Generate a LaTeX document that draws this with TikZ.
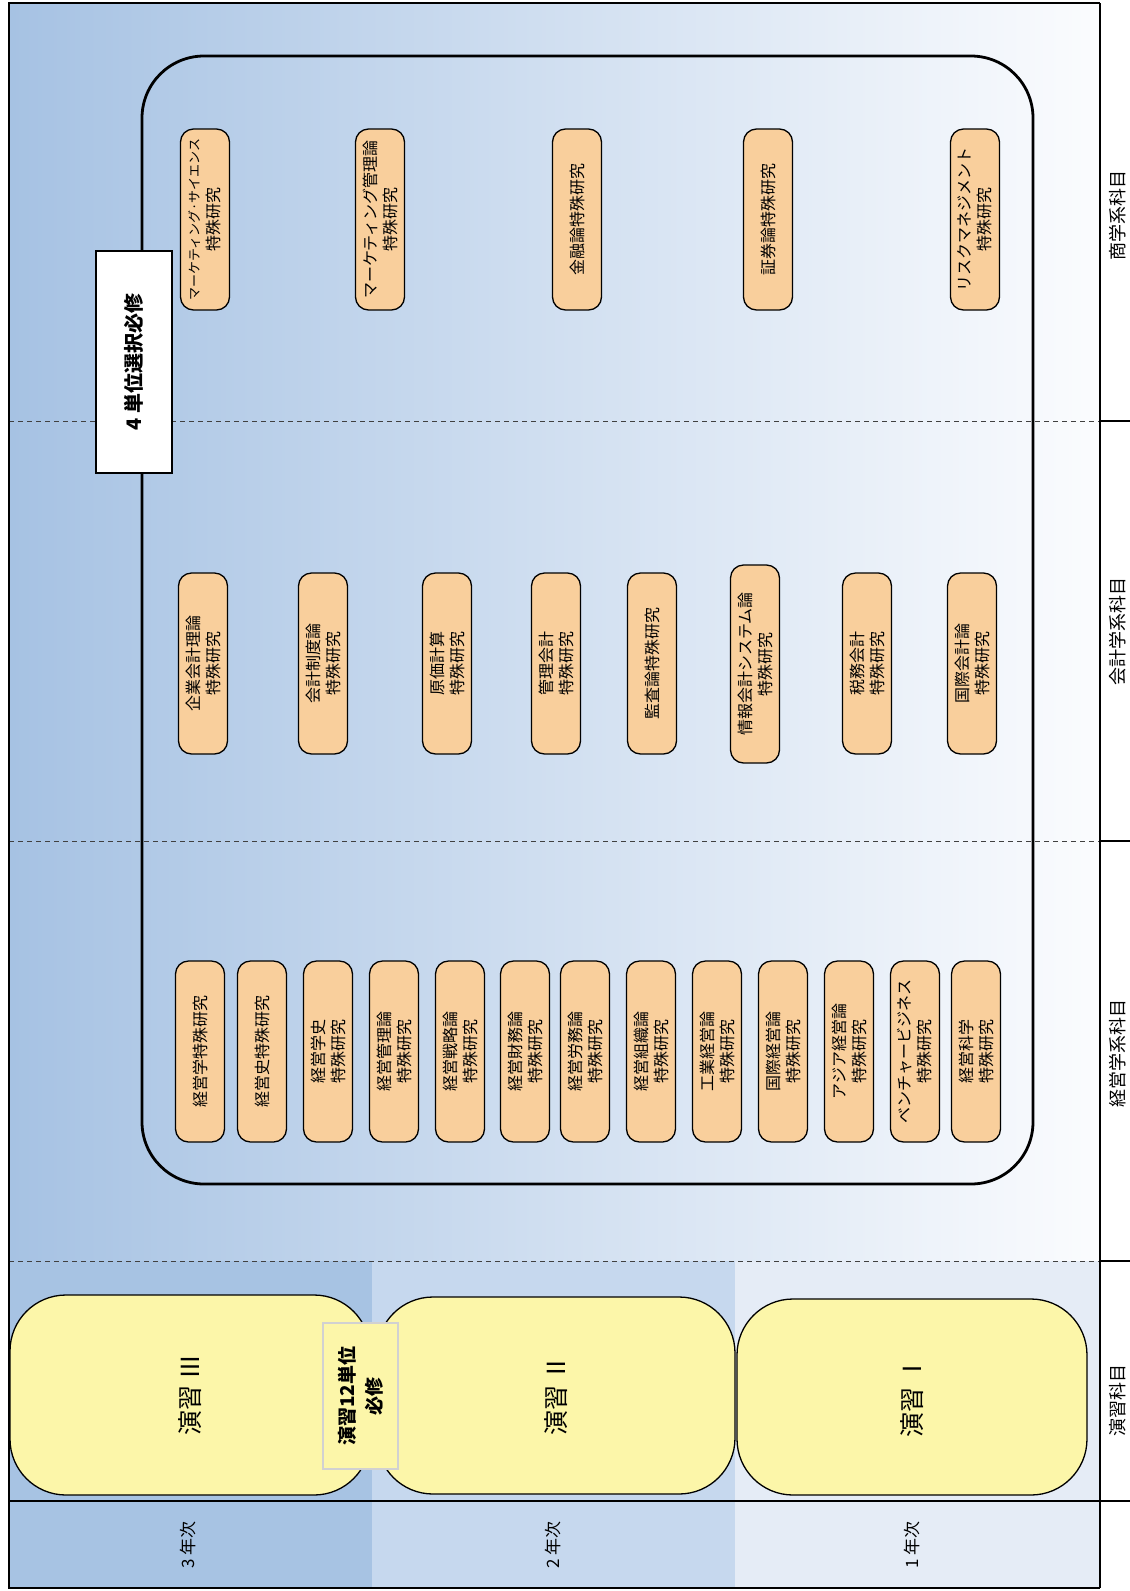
\documentclass[tikz,border=0pt]{standalone}
\usepackage{fontspec}
\setmainfont{Noto Sans CJK JP}
\setsansfont{Noto Sans CJK JP}
\usetikzlibrary{backgrounds}
\definecolor{gradleft}{HTML}{A6C2E3}
\definecolor{gradright}{HTML}{FBFCFE}
\definecolor{yearthree}{HTML}{A7C3E3}
\definecolor{yeartwo}{HTML}{C6D8EE}
\definecolor{yearone}{HTML}{E5ECF6}
\definecolor{apricot}{HTML}{F9CF9C}
\definecolor{cream}{HTML}{FCF6A9}

\begin{document}
\begin{tikzpicture}[x=1pt, y=-1pt,
    course/.style={rectangle, rounded corners=13pt, draw=black, line width=1.3pt, fill=apricot, rotate=90, minimum width=181pt, minimum height=49pt, inner sep=2pt, align=center, font={\fontsize{16}{20}\selectfont}},
    seminar/.style={rectangle, rounded corners=56pt, draw=black, line width=1.3pt, fill=cream, rotate=90, inner sep=0pt, font={\fontsize{25}{28}\selectfont}},
    notebox/.style={rectangle, draw=black, line width=2.5pt, fill=white, rotate=90, align=center, font={\bfseries\fontsize{20}{24}\selectfont}},
    yearlabel/.style={rotate=90, font={\fontsize{17}{20}\selectfont}},
    grouplabel/.style={rotate=90, font={\fontsize{18}{20}\selectfont}},
    frame/.style={line width=2pt, color=black},
    divider/.style={dashed, dash pattern=on 5pt off 4pt, line width=0.8pt, color=black!75},
  ]
  \useasboundingbox (0,0) rectangle (1130,1591);

  % Background
  \shade[left color=gradleft, right color=gradright] (9,3) rectangle (1100,1261);
  \fill[yearthree] (9,1261) rectangle (372,1588);
  \fill[yeartwo] (372,1261) rectangle (735,1588);
  \fill[yearone] (735,1261) rectangle (1100,1588);

  % Grid
  \coordinate (tl) at (9,3);
  \coordinate (tr) at (1100,3);
  \coordinate (bl) at (9,1588);
  \coordinate (br) at (1100,1588);
  \draw[divider] (9,421) -- (1100,421);
  \draw[divider] (9,841) -- (1100,841);
  \draw[divider] (9,1261) -- (1100,1261);
  \draw[frame, line width=1.5pt] (1100,421) -- (1130,421);
  \draw[frame, line width=1.5pt] (1100,841) -- (1130,841);
  \draw[frame, line width=1.5pt] (1100,1261) -- (1130,1261);
  \draw[frame] (9,1501) -- (1130,1501);
  \draw[frame] (tr) -- (tl) -- (bl) -- (br);
  \draw[frame, line width=2.6pt] (tr) -- (br);

  % Group labels
  \node[grouplabel] (shogaku) at (1118,215) {商学系科目};
  \node[grouplabel] (kaikei) at (1118,631) {会計学系科目};
  \node[grouplabel] (keieigaku) at (1118,1053) {経営学系科目};
  \node[grouplabel] (enshu) at (1118,1400) {演習科目};

  % Elective frame
  \draw[line width=2.8pt, rounded corners=62pt] (142,56) rectangle (1033,1184);
  \node[notebox, minimum width=222pt, minimum height=76pt] (elective) at (134,362) {4 単位選択必修};

  % Commerce courses
  \node[course] (mktsci) at (205,219.5) {{\fontsize{13}{20}\selectfont マーケティング·サイエンス}\\特殊研究};
  \node[course] (mktmgmt) at (380,219.5) {マーケティング管理論\\特殊研究};
  \node[course] (finance) at (577,219.5) {金融論特殊研究};
  \node[course] (securities) at (768,219.5) {証券論特殊研究};
  \node[course] (risk) at (975,219.5) {リスクマネジメント\\特殊研究};

  % Accounting courses
  \node[course] (corpacc) at (203,663.5) {企業会計理論\\特殊研究};
  \node[course] (accsys) at (323,663.5) {会計制度論\\特殊研究};
  \node[course] (costacc) at (447,663.5) {原価計算\\特殊研究};
  \node[course] (mgmtacc) at (556,663.5) {管理会計\\特殊研究};
  \node[course] (audit) at (652,663.5) {監査論特殊研究};
  \node[course, minimum width=198pt] (infoacc) at (755,664) {情報会計システム論\\特殊研究};
  \node[course] (taxacc) at (867,663.5) {税務会計\\特殊研究};
  \node[course] (intlacc) at (972,663.5) {国際会計論\\特殊研究};

  % Management courses
  \node[course] (mgtheory) at (200,1051.5) {経営学特殊研究};
  \node[course] (mghistory) at (262,1051.5) {経営史特殊研究};
  \node[course] (mgthought) at (328,1051.5) {経営学史\\特殊研究};
  \node[course] (mgadmin) at (394,1051.5) {経営管理論\\特殊研究};
  \node[course] (mgstrategy) at (460,1051.5) {経営戦略論\\特殊研究};
  \node[course] (mgfinance) at (525,1051.5) {経営財務論\\特殊研究};
  \node[course] (mglabor) at (585,1051.5) {経営労務論\\特殊研究};
  \node[course] (mgorg) at (651,1051.5) {経営組織論\\特殊研究};
  \node[course] (mgindustry) at (717,1051.5) {工業経営論\\特殊研究};
  \node[course] (mgintl) at (783,1051.5) {国際経営論\\特殊研究};
  \node[course] (mgasia) at (849,1051.5) {アジア経営論\\特殊研究};
  \node[course] (mgventure) at (915,1051.5) {ベンチャービジネス\\特殊研究};
  \node[course] (mgscience) at (976,1051.5) {経営科学\\特殊研究};

  % Seminars
  \node[seminar, minimum width=200pt, minimum height=360pt] (semthree) at (190,1395) {演習 Ⅲ};
  \node[seminar, minimum width=197pt, minimum height=358pt] (semtwo) at (556,1395.5) {演習 Ⅱ};
  \node[seminar, minimum width=196pt, minimum height=350pt] (semone) at (912,1397) {演習 Ⅰ};
  \node[rectangle, draw=black!18, line width=1.2pt, fill=cream, rotate=90, minimum width=146pt, minimum height=75pt, align=center, font={\bfseries\fontsize{19}{27}\selectfont}] (semnote) at (360.5,1396) {演習12単位\\必修};

  % Years
  \node[yearlabel] (yearthree) at (188,1545) {3 年次};
  \node[yearlabel] (yeartwo) at (553,1545) {2 年次};
  \node[yearlabel] (yearone) at (912,1545) {1 年次};
\end{tikzpicture}
\end{document}
